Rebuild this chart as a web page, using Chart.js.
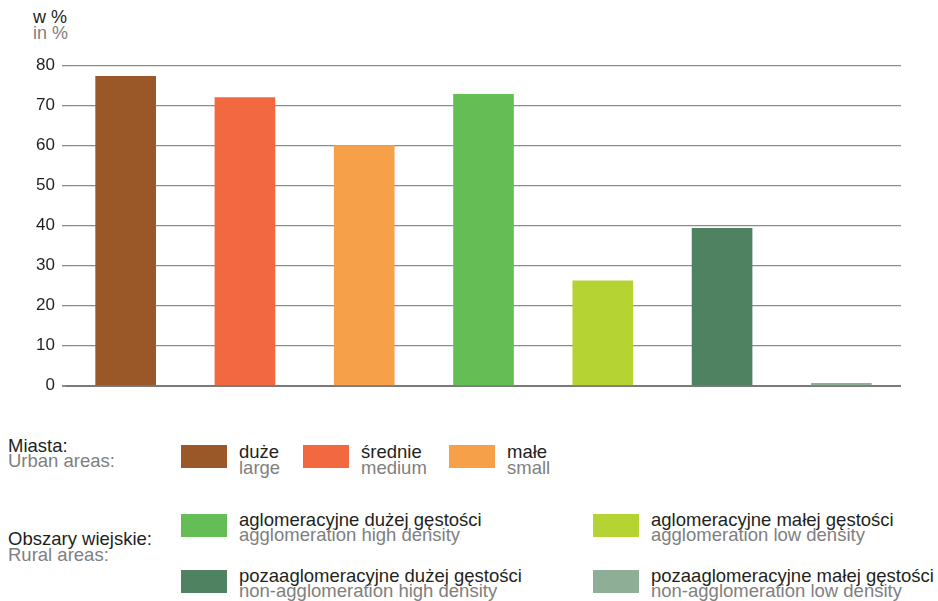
<!DOCTYPE html>
<html>
<head>
<meta charset="utf-8">
<script src="https://cdn.jsdelivr.net/npm/chart.js@4/dist/chart.umd.min.js"></script>
<style>
  html, body { margin: 0; padding: 0; background: #fff; }
  body { width: 938px; height: 601px; position: relative; overflow: hidden;
         font-family: "Liberation Sans", Arial, sans-serif; }
  #wrap { position: absolute; left: 0; top: 0; width: 938px; height: 403px; }
  .t { position: absolute; font-size: 18.5px; line-height: 15.5px; white-space: nowrap; }
  .tight { line-height: 14.5px; }
  .k { color: #231f20; }
  .g { color: #808080; }
  .sw { position: absolute; width: 46px; height: 23px; }
</style>
</head>
<body>
<div class="t" style="left:33px; top:8.5px; font-size:18px; line-height:16px;"><span class="k">w %</span><br><span class="g">in %</span></div>
<div id="wrap"><canvas id="c"></canvas></div>
<div id="legend"></div>
<script>
const categories = ["duże", "średnie", "małe", "aglomeracyjne dużej gęstości", "aglomeracyjne małej gęstości", "pozaaglomeracyjne dużej gęstości", "pozaaglomeracyjne małej gęstości"];
const categoriesEn = ["large", "medium", "small", "agglomeration high density", "agglomeration low density", "non-agglomeration high density", "non-agglomeration low density"];
const values = [77.3, 72.0, 60.0, 72.8, 26.2, 39.3, 0.6];
const colors = ["#9a5828", "#f26841", "#f7a04a", "#64be55", "#b6d334", "#4e8260", "#8fae96"];
const yTicks = [0, 10, 20, 30, 40, 50, 60, 70, 80];

new Chart(document.getElementById('c'), {
  type: 'bar',
  data: {
    labels: categories,
    datasets: [{ data: values, backgroundColor: colors, borderWidth: 0,
                 barThickness: 60, categoryPercentage: 1 }]
  },
  options: {
    responsive: true, maintainAspectRatio: false, animation: false,
    layout: { padding: { top: 65.5, right: 37, bottom: 11, left: 0 } },
    plugins: { legend: { display: false }, tooltip: { enabled: false } },
    scales: {
      x: { display: false },
      y: {
        min: 0, max: 80,
        afterFit: s => { s.width = 66; },
        afterBuildTicks: s => { s.ticks = yTicks.map(v => ({ value: v })); },
        border: { display: false },
        grid: {
          color: ctx => ctx.tick && ctx.tick.value === 0 ? '#7a7a7a' : '#8c8c8c',
          lineWidth: ctx => ctx.tick && ctx.tick.value === 0 ? 2 : 1.3,
          drawTicks: true, tickLength: 4, tickColor: '#8c8c8c'
        },
        ticks: { color: '#231f20', padding: 7,
                 font: { family: '"Liberation Sans", Arial, sans-serif', size: 17 } }
      }
    }
  }
});

const lg = document.getElementById('legend');
function add(html) { lg.insertAdjacentHTML('beforeend', html); }
add('<div class="t" style="left:8px; top:437.5px;"><span class="k">Miasta:</span><br><span class="g">Urban areas:</span></div>');
add('<div class="t" style="left:8px; top:531px;"><span class="k">Obszary wiejskie:</span><br><span class="g">Rural areas:</span></div>');
const swPos = [
  [181, 445], [303, 445], [449, 445],
  [181, 514], [593, 514], [181, 570], [593, 570]
];
const txtTop = [444, 444, 444, 513, 513, 569, 569];
categories.forEach((c, i) => {
  const [x, y] = swPos[i];
  add('<div class="sw" style="left:' + x + 'px; top:' + y + 'px; background:' + colors[i] + ';"></div>');
  add('<div class="t' + (i >= 3 ? ' tight' : '') + '" style="left:' + (x + 58) + 'px; top:' + txtTop[i] + 'px;"><span class="k">' + c + '</span><br><span class="g">' + categoriesEn[i] + '</span></div>');
});
</script>
</body>
</html>
